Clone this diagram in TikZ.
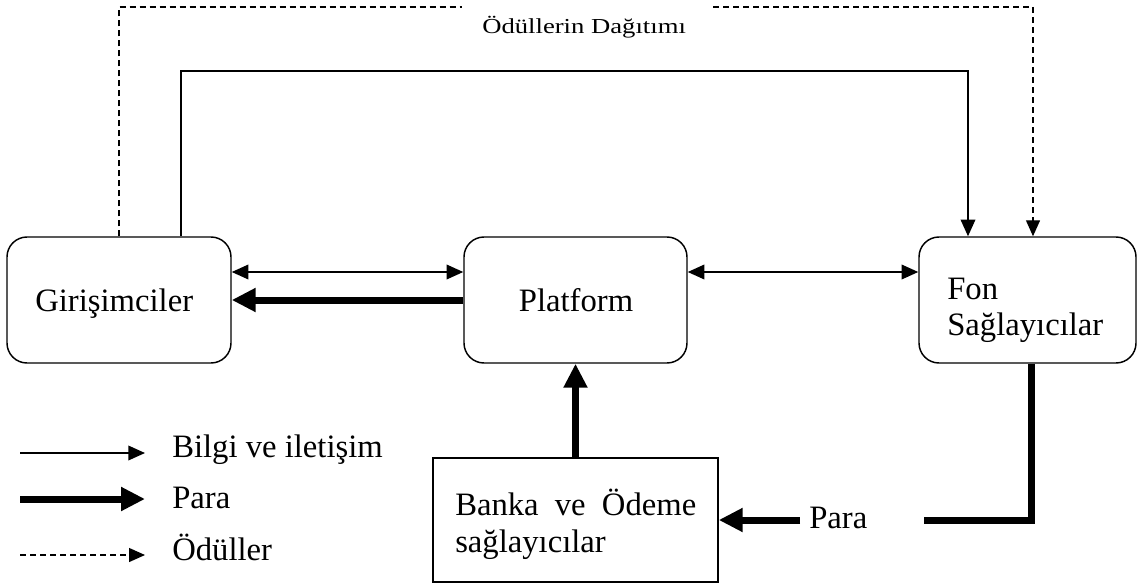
\documentclass[tikz,border=0pt]{standalone}
\usepackage{fontspec}
\setmainfont{Liberation Serif}
\usetikzlibrary{arrows.meta,calc}
\begin{document}
\begin{tikzpicture}[x=0.75pt,y=-0.75pt,
  rbox/.style={draw,line width=1.1pt,rounded corners=15pt,minimum height=94.5pt,inner sep=0pt},
  sbox/.style={draw,line width=1.1pt,inner sep=0pt},
  txt/.style={font=\fontsize{24.5pt}{27.75pt}\selectfont,inner sep=0pt},
  info/.style={line width=1.1pt,-{Triangle[length=12.5pt,width=11pt]}},
  infob/.style={line width=1.1pt,{Triangle[length=12.5pt,width=11pt]}-{Triangle[length=12.5pt,width=11pt]}},
  money/.style={line width=5.25pt},
  moneyarr/.style={line width=5.25pt,-{Triangle[length=18pt,width=17pt]}},
  reward/.style={line width=1pt,dash pattern=on 4.5pt off 3pt},
  rewardarr/.style={reward,-{Triangle[length=12pt,width=10.5pt]}}
]
\useasboundingbox (0,0) rectangle (1138,585);

% boxes
\node[rbox,minimum width=168pt] (gir) at (119,300) {};
\node[rbox,minimum width=167.25pt] (plat) at (575.5,300) {};
\node[rbox,minimum width=162.75pt] (fon) at (1027.5,300) {};
\node[sbox,minimum width=213.75pt,minimum height=93pt] (banka) at (575.5,520) {};

% texts
\node[txt,anchor=base west] (girt) at (35,311) {Girişimciler};
\node[txt,anchor=base] (platt) at (576,311) {Platform};
\node[txt,anchor=base west] (font1) at (947,299) {Fon};
\node[txt,anchor=base west] (font2) at (947,335) {Sağlayıcılar};
\node[txt,anchor=base west] (bankat1) at (455,515) {\makebox[180.75pt][s]{Banka ve Ödeme}};
\node[txt,anchor=base west] (bankat2) at (455,552) {sağlayıcılar};
\node[txt,anchor=base west] (para2) at (809,528) {Para};
\node[inner sep=0pt,anchor=base west,font=\fontsize{16pt}{18pt}\selectfont] (odl) at (482,34) {\scalebox{1.25}[1]{Ödüllerin Dağıtımı}};

% top rewards (dashed)
\coordinate (dTL) at (119,7);
\coordinate (gapL) at (462,7);
\coordinate (gapR) at (713,7);
\coordinate (dTR) at (1033,7);
\draw[reward] (gir.north -| dTL) -- (dTL) -- (gapL);
\draw[rewardarr] (gapR) -- (dTR) -- (fon.north -| dTR);

% top info (solid)
\coordinate (sTL) at (181,71);
\coordinate (sTR) at (968,71);
\draw[info,line join=miter] (gir.north -| sTL) -- (sTL) -- (sTR) -- (fon.north -| sTR);

% info double arrows
\draw[infob] ($(gir.east)+(0,-28)$) -- ($(plat.west)+(0,-28)$);
\draw[infob] ($(plat.east)+(0,-28)$) -- ($(fon.west)+(0,-28)$);

% money
\draw[moneyarr] (plat.west) -- (gir.east);
\draw[moneyarr] (banka.north) -- (plat.south);
\coordinate (m1) at (1031,520);
\coordinate (m2) at (924,520);
\coordinate (m3) at (800,520);
\draw[money,line join=miter] (fon.south -| m1) -- (m1) -- (m2);
\draw[moneyarr] (m3) -- (banka.east |- m3);

% legend
\coordinate (l1a) at (20,453); \coordinate (l1b) at (145,453);
\coordinate (l2a) at (20,499); \coordinate (l2b) at (145,499);
\coordinate (l3a) at (20,555); \coordinate (l3b) at (145,555);
\draw[info] (l1a) -- (l1b);
\draw[moneyarr] (l2a) -- (l2b);
\draw[rewardarr] (l3a) -- (l3b);
\node[txt,anchor=base west] (leg1) at (172,457) {Bilgi ve iletişim};
\node[txt,anchor=base west] (leg2) at (172,508) {Para};
\node[txt,anchor=base west] (leg3) at (172,560) {Ödüller};
\end{tikzpicture}
\end{document}
